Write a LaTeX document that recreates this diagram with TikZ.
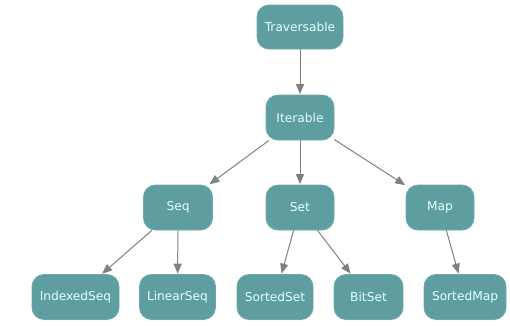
\documentclass[tikz,border=0pt]{standalone}
\usepackage{fontspec}
\setmainfont{DejaVu Sans}
\usetikzlibrary{arrows.meta}
\definecolor{nodefill}{HTML}{5F9EA0}
\definecolor{nodetext}{HTML}{E6FFFF}
\definecolor{edgecol}{HTML}{808080}
\begin{document}
\begin{tikzpicture}[x=1pt,y=-1pt,
  cls/.style={draw=nodefill!90!white, line width=0.8pt, fill=nodefill, text=nodetext, rounded corners=12pt,
    minimum height=45pt, inner sep=0pt, font=\fontsize{12.2}{14}\selectfont},
  edge/.style={draw=edgecol, line width=1pt, -{Triangle[length=10pt,width=8pt]}, shorten >=0.5pt}]
\useasboundingbox (0,0) rectangle (510,325);
\node[cls, minimum width=86pt, minimum height=44pt] (trav) at (300,27) {Traversable};
\node[cls, minimum width=68pt] (iter) at (300,117.5) {Iterable};
\node[cls, minimum width=69pt] (seq) at (178,207.5) {Seq};
\node[cls, minimum width=68pt] (set) at (300,207.5) {Set};
\node[cls, minimum width=68pt] (map) at (440,207.5) {Map};
\node[cls, minimum width=87pt] (iseq) at (75.5,297) {IndexedSeq};
\node[cls, minimum width=76pt] (lseq) at (177.5,297) {LinearSeq};
\node[cls, minimum width=76pt] (sset) at (275,297) {SortedSet};
\node[cls, minimum width=69pt] (bset) at (368.5,297) {BitSet};
\node[cls, minimum width=82pt] (smap) at (465,297) {SortedMap};
\draw[edge] (trav) -- (iter);
\draw[edge] (iter) -- (seq);
\draw[edge] (iter) -- (set);
\draw[edge] (iter) -- (map);
\draw[edge] (seq) -- (iseq);
\draw[edge] (seq) -- (lseq);
\draw[edge] (set) -- (sset);
\draw[edge] (set) -- (bset);
\draw[edge] (map) -- (smap);
\end{tikzpicture}
\end{document}
